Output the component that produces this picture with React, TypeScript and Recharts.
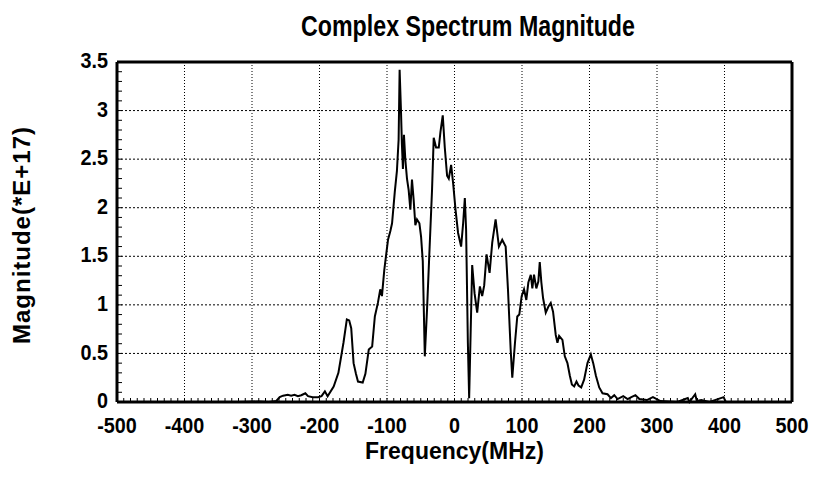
import { LineChart, Line, XAxis, YAxis, ReferenceLine, Label } from "recharts";

// spectrum magnitude (MHz, *E+17)
const freq = [
  -500, -400, -320, -290, -275, -264, -259, -254, -247, -242, -237, -232, -227, -221, -217, -210, -202, -197, -192, -188,
  -179, -172, -164.5, -159.5, -156, -153, -149.5, -146, -143, -136, -132, -127, -122, -118, -113.5, -110, -107.5, -104,
  -101, -98.5, -95, -92.5, -88.5, -85.3, -82.8, -81.3, -79.3, -77.9, -76.4, -74.9, -72.8, -70.4, -67.9, -65.4, -63, -60.5,
  -58, -55.6, -52, -49.5, -47, -44, -40.7, -37, -33.3, -30.8, -27.3, -23.3, -20.8, -17.4, -14.4, -11, -8.5, -5, -2, 1.5,
  5.3, 9.8, 12.8, 15.3, 17.2, 19.8, 21.7, 23.8, 26.2, 29.7, 33.6, 37.6, 41, 44, 47.5, 52, 55.9, 60.9, 65.8, 70.7, 75.8,
  79.2, 83.2, 85.6, 89.6, 93, 96, 99.5, 103, 106.4, 109.4, 113, 115.3, 117.8, 121.2, 124.2, 126.3, 128.7, 131.2, 135.2,
  139, 142.6, 146, 150, 152.5, 155, 159.9, 163.4, 167.3, 170.9, 173.9, 177.3, 180.7, 183.7, 187.7, 192, 197, 202, 205.5,
  209.5, 214.4, 219.3, 226.7, 231.8, 236.7, 241.6, 250, 256.5, 262, 268, 273.9, 285, 294, 305, 330, 345.6, 348, 356.6,
  359, 365.5, 378, 398.7, 402, 450, 500,
];
const magnitude = [
  0, 0, 0, 0.005, 0, 0.01, 0.05, 0.065, 0.075, 0.065, 0.075, 0.06, 0.07, 0.09, 0.06, 0.05, 0.05, 0.06, 0.11, 0.06,
  0.16, 0.3, 0.61, 0.85, 0.84, 0.76, 0.4, 0.29, 0.21, 0.2, 0.29, 0.54, 0.57, 0.88, 1.02, 1.16, 1.09, 1.36,
  1.53, 1.67, 1.76, 1.84, 2.16, 2.38, 2.7, 3.42, 3.0, 2.65, 2.4, 2.75, 2.49, 2.3, 2.18, 1.98, 2.29, 2.08,
  1.82, 1.88, 1.84, 1.7, 1.45, 0.47, 0.95, 1.57, 2.18, 2.72, 2.62, 2.62, 2.78, 2.95, 2.62, 2.33, 2.3, 2.44, 2.25, 1.98,
  1.74, 1.6, 1.84, 2.1, 1.77, 0.61, 0.04, 0.68, 1.41, 1.12, 0.92, 1.19, 1.09, 1.2, 1.52, 1.33, 1.64, 1.88, 1.6, 1.67, 1.6,
  1.16, 0.54, 0.25, 0.61, 0.88, 0.9, 1.09, 1.16, 1.05, 1.23, 1.31, 1.17, 1.31, 1.17, 1.24, 1.44, 1.23, 1.07, 0.92,
  0.98, 1.02, 0.93, 0.69, 0.61, 0.68, 0.64, 0.47, 0.4, 0.27, 0.18, 0.16, 0.21, 0.17, 0.15, 0.23, 0.4, 0.49, 0.4,
  0.27, 0.15, 0.09, 0.08, 0.04, 0.07, 0.03, 0.06, 0.03, 0.05, 0.07, 0.03, 0.02, 0.05, 0.01, 0, 0.04, 0, 0.08,
  0.01, 0.02, 0, 0.05, 0, 0, 0,
];

const xMajor = [-500, -400, -300, -200, -100, 0, 100, 200, 300, 400, 500];
const yMajor = [0, 0.5, 1, 1.5, 2, 2.5, 3, 3.5];
const xMinor = Array.from({ length: 101 }, (_, i) => -500 + i * 10);
const yMinor = Array.from({ length: 36 }, (_, i) => i / 10);

const data = freq.map((f, i) => ({ f, m: magnitude[i] }));

const font = "'Liberation Sans', Arial, sans-serif";
const isMajor = (v: number, list: number[]) => list.some((m) => Math.abs(m - v) < 1e-6);

// condensed bold tick label, like the narrow typeface of the original plot
function CondensedTick(props: any) {
  const { x, y, payload, orientation } = props;
  const v = payload.value as number;
  const bottom = orientation === "bottom";
  if (!isMajor(v, bottom ? xMajor : yMajor)) return null;
  return (
    <text
      x={x}
      y={y}
      dy={bottom ? "0.71em" : "0.28em"}
      textAnchor={bottom ? "middle" : "end"}
      transform={`translate(${x} ${y}) scale(0.9 1) translate(${-x} ${-y})`}
      style={{ fontFamily: font, fontWeight: 700, fontSize: 22, fill: "#000" }}
    >
      {String(v)}
    </text>
  );
}

export default function App() {
  return (
    <div style={{ position: "fixed", left: 0, top: 0, width: 816, height: 482, background: "#fff" }}>
      <div
        style={{
          position: "absolute",
          left: 468 - 300,
          width: 600,
          top: 10,
          textAlign: "center",
          fontFamily: font,
          fontWeight: 700,
          fontSize: 29,
          color: "#000",
          transform: "scaleX(0.8)",
          whiteSpace: "nowrap",
        }}
      >
        Complex Spectrum Magnitude
      </div>
      <LineChart width={816} height={482} data={data} margin={{ top: 62, right: 24, bottom: 20, left: 0 }}>
        {xMajor.slice(1, -1).map((v) => (
          <ReferenceLine key={"gx" + v} x={v} stroke="#000" strokeWidth={1} strokeDasharray="1 2" />
        ))}
        {yMajor.slice(1, -1).map((v) => (
          <ReferenceLine key={"gy" + v} y={v} stroke="#000" strokeWidth={1} strokeDasharray="2 2" />
        ))}
        <XAxis
          dataKey="f"
          type="number"
          domain={[-500, 500]}
          ticks={xMinor}
          interval={0}
          height={60}
          tickSize={-4}
          tickMargin={19}
          stroke="#000"
          axisLine={{ stroke: "#000", strokeWidth: 3 }}
          tickLine={{ stroke: "#000", strokeWidth: 1 }}
          tick={<CondensedTick />}
        >
          <Label
            value="Frequency(MHz)"
            position="insideBottom"
            offset={3}
            style={{ fontFamily: font, fontWeight: 700, fontSize: 23, fill: "#000" }}
          />
        </XAxis>
        <YAxis
          type="number"
          domain={[0, 3.5]}
          ticks={yMinor}
          interval={0}
          width={117}
          tickSize={-5}
          tickMargin={14}
          stroke="#000"
          axisLine={{ stroke: "#000", strokeWidth: 3 }}
          tickLine={{ stroke: "#000", strokeWidth: 1 }}
          tick={<CondensedTick />}
        >
          <Label
            value="Magnitude(*E+17)"
            angle={-90}
            position="insideLeft"
            offset={21}
            dy={3}
            style={{ textAnchor: "middle", fontFamily: font, fontWeight: 700, fontSize: 24, fill: "#000", letterSpacing: 1 }}
          />
        </YAxis>
        <ReferenceLine y={3.5} stroke="#000" strokeWidth={3} />
        <ReferenceLine x={500} stroke="#000" strokeWidth={3} />
        <Line dataKey="m" type="linear" stroke="#000" strokeWidth={2} dot={false} isAnimationActive={false} />
      </LineChart>
    </div>
  );
}
